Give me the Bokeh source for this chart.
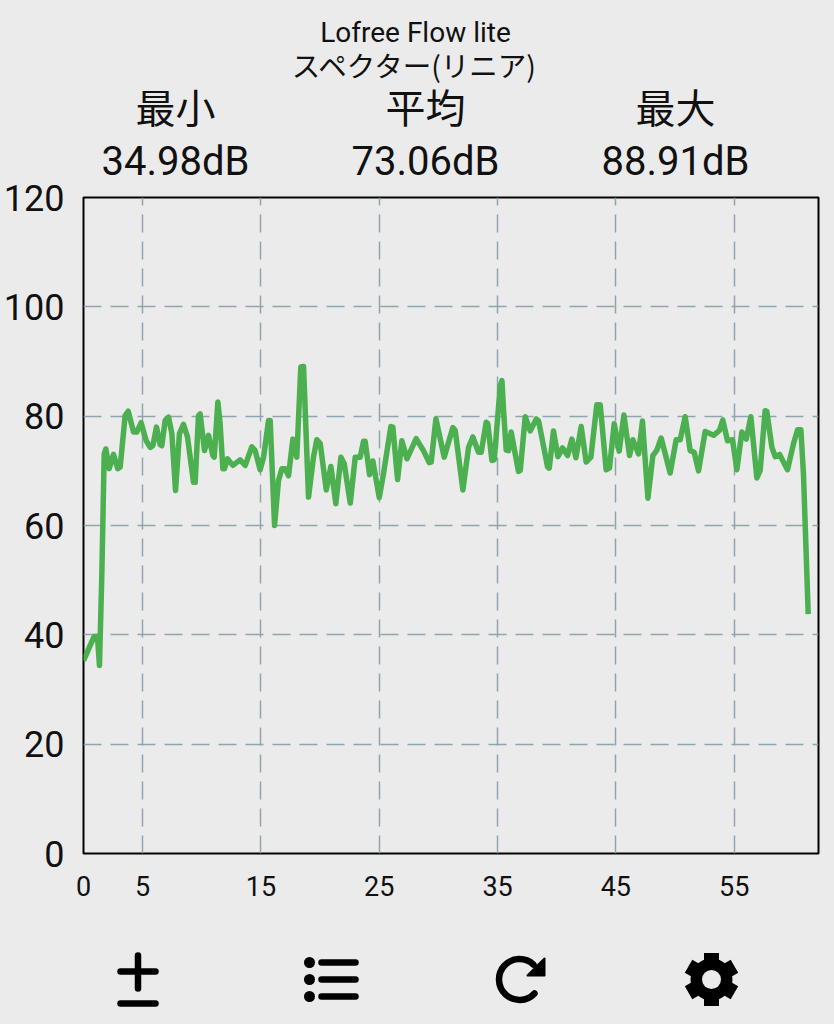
from bokeh.plotting import figure
from bokeh.layouts import column
from bokeh.models import Range1d, FixedTicker
from bokeh.core.properties import value
from bokeh.embed import file_html
from bokeh.resources import INLINE
import math

BG = "#EBEBEB"
title_lines = ["Lofree Flow lite", "スペクター(リニア)"]
stat_names = ["最小", "平均", "最大"]
stat_values = ["34.98dB", "73.06dB", "88.91dB"]
x_ticks = [0, 5, 15, 25, 35, 45, 55]
y_ticks = [0, 20, 40, 60, 80, 100, 120]
grid_x = [5, 15, 25, 35, 45, 55]
grid_y = [20, 40, 60, 80, 100]

time_s = [0.0,0.90,1.18,1.35,1.55,1.75,1.89,2.17,2.54,2.90,3.10,3.52,3.78,4.23,4.51,4.87,5.30,5.64,5.86,6.17,
 6.48,6.62,6.90,7.19,7.47,7.78,8.11,8.45,8.79,9.30,9.44,9.72,9.86,10.23,10.57,10.93,11.05,11.36,11.55,11.78,
 11.92,12.17,12.62,13.24,13.67,14.23,14.51,14.93,15.22,15.64,15.78,16.15,16.48,16.77,17.05,17.33,17.70,18.03,18.37,18.60,
 19.02,19.44,19.72,20.01,20.52,20.91,21.33,21.76,22.04,22.55,22.97,23.39,23.67,23.81,24.18,24.46,25.0,25.36,25.98,26.15,
 26.55,26.91,27.34,28.12,28.74,29.22,29.39,29.79,30.49,31.22,31.42,32.07,32.55,32.91,33.39,33.62,34.04,34.18,34.52,34.72,
 35.23,35.37,35.51,35.73,35.93,36.15,36.77,36.92,37.34,37.76,38.27,38.47,39.23,39.37,39.73,40.10,40.49,40.92,41.28,41.62,
 42.07,42.49,42.89,43.39,43.68,44.18,44.46,44.86,45.28,45.68,46.16,46.44,46.92,47.25,47.71,48.13,48.47,48.83,49.59,50.10,
 50.44,50.86,51.28,51.62,51.99,52.55,53.26,53.76,54.04,54.44,54.86,55.23,55.65,56.02,56.41,56.92,57.20,57.62,57.76,58.19,
 58.47,58.84,59.51,60.02,60.36,60.64,60.86,61.26]
level_db = [35.3,39.7,39.7,34.4,51.1,73.1,74.0,70.4,73.0,70.4,70.7,80.1,80.9,77.1,77.1,78.8,75.5,74.3,74.6,78.0,
 74.8,74.6,79.2,79.8,76.8,66.4,76.8,78.5,76.2,67.9,67.9,80.1,80.4,73.7,76.5,72.8,72.5,82.6,78.6,70.4,
 70.4,72.2,71.0,72.0,71.0,74.4,73.7,70.2,72.5,79.2,79.2,60.0,68.2,70.4,70.4,69.1,75.8,72.5,89.0,89.1,
 65.2,72.5,75.7,75.0,66.5,70.8,64.0,72.5,71.3,64.1,72.5,72.5,75.4,75.4,69.3,71.8,65.1,69.5,78.1,78.0,
 68.4,75.5,72.2,75.9,73.7,71.5,71.6,79.5,72.5,77.9,77.4,66.5,74.3,76.2,73.4,73.4,78.9,78.6,71.9,72.0,
 85.6,86.5,81.0,73.8,73.7,77.1,69.9,70.1,79.9,77.3,79.5,79.1,70.7,70.5,77.3,72.6,74.2,72.8,75.8,72.4,
 78.1,71.6,72.5,82.1,82.1,70.2,70.5,78.6,73.6,80.2,72.8,75.7,73.1,79.1,65.0,72.8,73.8,76.0,69.6,75.7,
 75.7,79.9,73.7,73.4,70.0,77.2,76.5,77.4,79.3,75.5,75.7,70.2,77.1,75.8,79.9,68.7,70.1,81.0,80.9,74.3,
 72.6,73.0,70.2,75.0,77.5,77.5,69.4,43.8]

# header: page-pixel coordinates (frames of the column are aligned to x 83..818)
HD = 190
TOP = 170          # page y where the chart's transparent canvas begins, overlapping the header
hd = figure(width=834, height=HD, output_backend="svg", toolbar_location=None,
            x_range=Range1d(83, 818), y_range=Range1d(0, HD),
            x_axis_location=None, y_axis_location=None,
            min_border=0, background_fill_color=BG, border_fill_color=BG, outline_line_color=None)
hd.grid.visible = False

def lab(text, x, y, size, font="Roboto"):
    hd.text([x], [HD - y], text=[text], text_font=value(font), text_font_size=size,
            text_align="center", text_baseline="middle", text_color="#111111")

lab(title_lines[0], 415, 32, "28px")
lab(title_lines[1], 415, 64, "28.5px", "Noto Sans CJK JP")
for n, v, cx in zip(stat_names, stat_values, (175, 425, 675)):
    lab(n, cx, 105, "40px", "Noto Sans CJK JP")
    lab(v, cx, 161, "40px")

p = figure(width=834, height=1024 - TOP - 100, output_backend="svg", toolbar_location=None,
           x_range=Range1d(0, 62.13), y_range=Range1d(0, 120),
           min_border_left=83, min_border_right=16, min_border_top=197 - TOP, min_border_bottom=71,
           background_fill_color=BG, border_fill_color=None,
           outline_line_color="black", outline_line_width=2,
           margin=(TOP - HD, 0, 0, 0))

for ax, ticks, size in ((p.xaxis, x_ticks, "27px"), (p.yaxis, y_ticks, "36px")):
    ax.ticker = FixedTicker(ticks=ticks)
    ax.major_tick_line_color = None
    ax.minor_tick_line_color = None
    ax.axis_line_color = None
    ax.major_label_text_font = "Roboto"
    ax.major_label_text_font_size = size
    ax.major_label_text_color = "#111111"
p.xaxis.major_label_standoff = 16
p.yaxis.major_label_standoff = 13
p.xgrid.ticker = FixedTicker(ticks=grid_x)
p.ygrid.ticker = FixedTicker(ticks=grid_y)
for g in (p.xgrid, p.ygrid):
    g.grid_line_color = "#90A4AE"
    g.grid_line_width = 1.5
    g.grid_line_dash = "18 9"

p.line(time_s, level_db, line_color="#4CAF50", line_width=5.5, line_join="round", line_cap="butt")

# toolbar icons, drawn in page pixels
ic = figure(width=834, height=100, output_backend="svg", toolbar_location=None,
            x_range=Range1d(83, 818), y_range=Range1d(0, 100),
            x_axis_location=None, y_axis_location=None,
            min_border=0, background_fill_color=BG, border_fill_color=BG, outline_line_color=None)
ic.grid.visible = False
Y = lambda py: 1024 - py
k = "black"
for xs, ys in (([120, 155], [971, 971]), ([137.5, 137.5], [955, 988]), ([120, 155], [1003, 1003]),
               ([321, 355], [962, 962]), ([321, 355], [979, 979]), ([321, 355], [996, 996])):
    ic.line(xs, [Y(v) for v in ys], line_color=k, line_width=6.5, line_cap="round")
ic.circle([309, 309, 309], [Y(962), Y(979), Y(996)], radius=5.5, fill_color=k, line_color=None)
ic.arc([519], [Y(979)], radius=20.5, start_angle=math.radians(47), end_angle=math.radians(-43),
       line_color=k, line_width=6.5, line_cap="round")
ic.patch([544, 544, 527], [Y(958), Y(975), Y(975)], fill_color=k, line_color=k, line_width=2, line_join="round")
for a in (0, 60, 120):
    ic.rect([711], [Y(979)], width=15, height=53, angle=math.radians(a), fill_color=k, line_color=None)
ic.circle([711], [Y(979)], radius=21, fill_color=k, line_color=None)
ic.circle([711], [Y(979)], radius=9.5, fill_color=BG, line_color=None)

layout = column(hd, p, ic, spacing=0)
html = file_html(layout, INLINE)
html = html.replace("<head>", "<head><style>html,body{background:#EBEBEB}</style>", 1)
open("out.html", "w").write(html)
